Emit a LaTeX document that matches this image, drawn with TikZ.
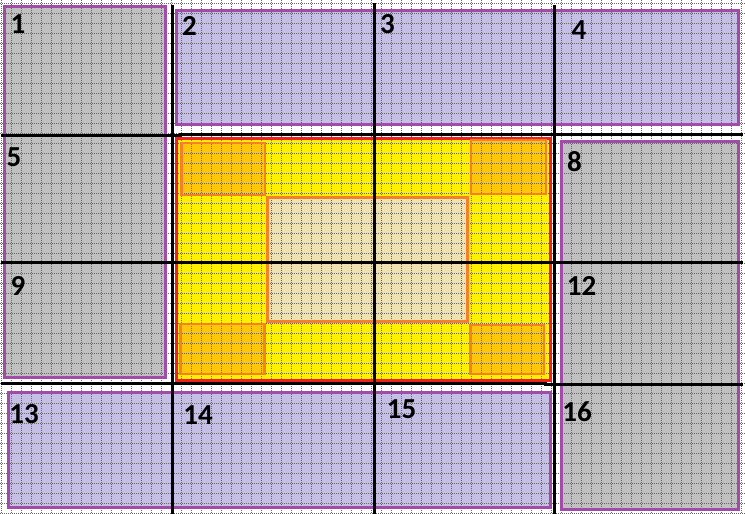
\documentclass[tikz,border=0pt]{standalone}
\usepackage{fontspec}
\setmainfont{Carlito}
\definecolor{boxgray}{RGB}{192,192,192}
\definecolor{lav}{RGB}{197,190,229}
\definecolor{purp}{RGB}{160,76,168}
\definecolor{yel}{RGB}{255,240,0}
\definecolor{orfill}{RGB}{255,198,10}
\definecolor{orline}{RGB}{245,128,40}
\definecolor{beige}{RGB}{238,225,178}
\definecolor{redline}{RGB}{238,32,36}
\begin{document}
\begin{tikzpicture}[x=1pt,y=-1pt,
  purpedge/.style={draw=purp,line width=3pt},
  rededge/.style={draw=redline,line width=3pt},
  oredge/.style={draw=orline,line width=2.4pt},
  griddot/.style={draw=black!60,line width=0.45pt,dash pattern=on 0.8pt off 1.2pt},
  blk/.style={draw=black,line width=3pt},
  lbl/.style={anchor=base,inner sep=0pt,font=\fontsize{29}{30}\selectfont\bfseries}]
\useasboundingbox (0,0) rectangle (745,514);
\fill[white] (0,0) rectangle (745,514);
% fills
\fill[boxgray] (4.5,6) rectangle (165,377);
\fill[lav] (176,10.5) rectangle (738,124);
\fill[boxgray] (561,141.5) rectangle (738,509.5);
\fill[lav] (8.5,392) rectangle (550,507);
\fill[yel] (176,138) rectangle (550,380);
\fill[orfill] (181.5,143) rectangle (265,195);
\fill[orfill] (471,140) rectangle (546,194);
\fill[orfill] (180.5,324) rectangle (264.5,374);
\fill[orfill] (470.5,325) rectangle (544,374);
\fill[beige] (267.5,197.5) rectangle (467.3,321.3);
% dotted grid
\foreach \x in {1.5,11.5,...,741.5} \draw[griddot] (\x,0) -- (\x,514);
\foreach \y in {3,13,...,513} \draw[griddot] (0,\y) -- (745,\y);
% edges
\draw[purpedge] (4.5,6) rectangle (165,377);
\draw[purpedge] (176,10.5) rectangle (738,124);
\draw[purpedge] (561,141.5) rectangle (738,509.5);
\draw[purpedge] (8.5,392) rectangle (550,507);
\draw[rededge] (176,138) rectangle (550,380);
\draw[oredge] (181.5,143) rectangle (265,195);
\draw[oredge] (471,140) rectangle (546,194);
\draw[oredge] (180.5,324) rectangle (264.5,374);
\draw[oredge] (470.5,325) rectangle (544,374);
\draw[oredge] (267.5,197.5) rectangle (467.3,321.3);
% black lines
\draw[blk] (172.5,5) -- (172.5,514);
\draw[blk] (374.5,3) -- (374.5,514);
\draw[blk] (554.5,5) -- (554.5,514);
\draw[blk] (1,135) -- (180,135) -- (180,134) -- (743,134);
\draw[blk] (1,262) -- (743,262);
\draw[blk] (1,383.5) -- (545,383.5) -- (545,384.5) -- (743,384.5);
% labels
\node[lbl] (l1) at (18,33) {1};
\node[lbl] (l2) at (189.5,35) {2};
\node[lbl] (l3) at (387.5,33) {3};
\node[lbl] (l4) at (579,39) {4};
\node[lbl] (l5) at (14,166) {5};
\node[lbl] (l8) at (574.5,171) {8};
\node[lbl] (l9) at (18,295) {9};
\node[lbl] (l12) at (581.5,295) {12};
\node[lbl] (l13) at (24,423) {13};
\node[lbl] (l14) at (198,424) {14};
\node[lbl] (l15) at (401.5,418) {15};
\node[lbl] (l16) at (577,421) {16};
\end{tikzpicture}
\end{document}
